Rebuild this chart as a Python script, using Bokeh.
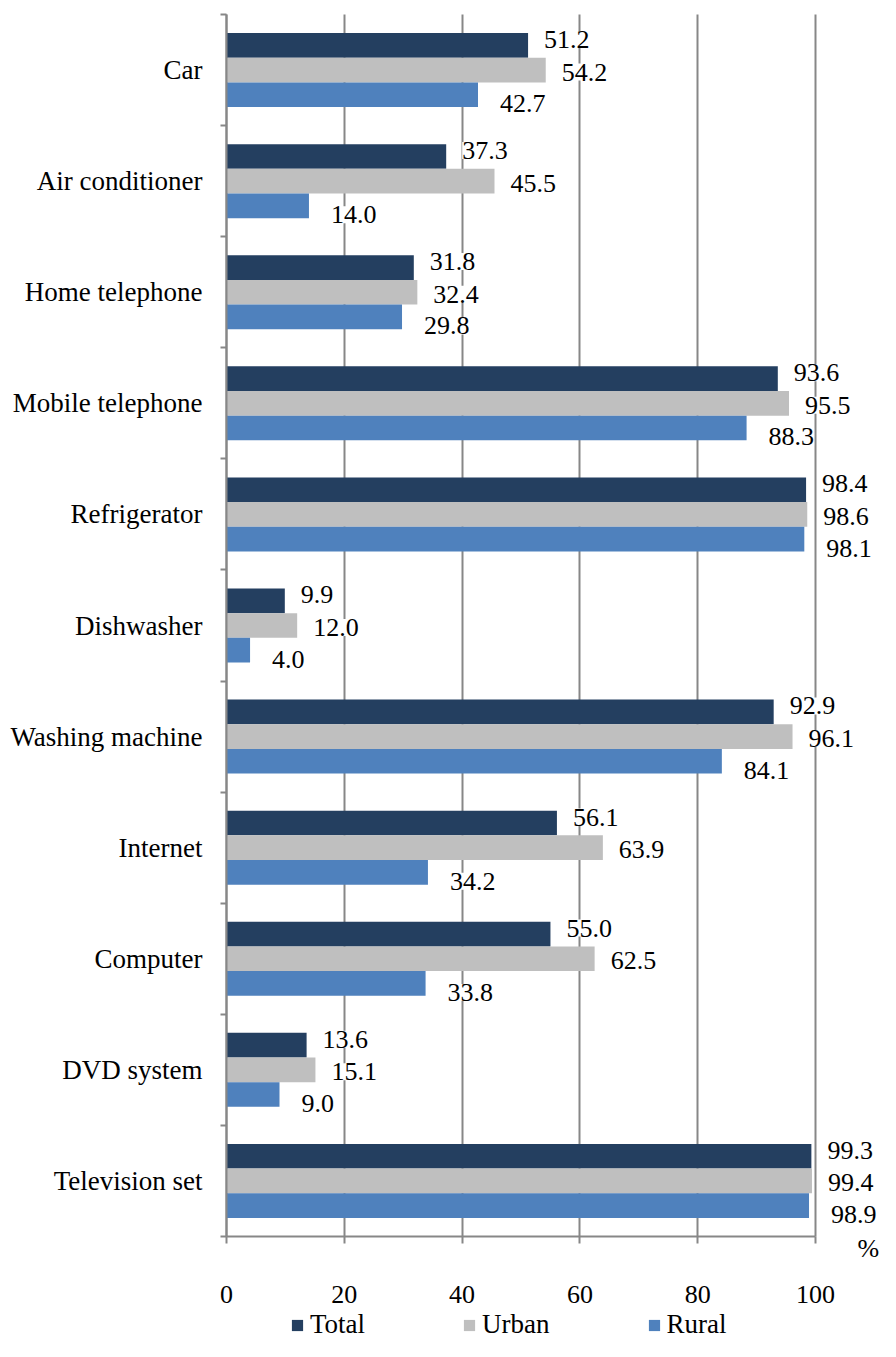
import numpy as np
from bokeh.plotting import figure
from bokeh.models import (ColumnDataSource, Range1d, FixedTicker, LabelSet, Label,
                          Legend, LegendItem, Grid)
from bokeh.core.properties import value
from bokeh.embed import file_html
from bokeh.resources import INLINE

categories = ["Car", "Air conditioner", "Home telephone", "Mobile telephone",
              "Refrigerator", "Dishwasher", "Washing machine", "Internet",
              "Computer", "DVD system", "Television set"]
total = [51.2, 37.3, 31.8, 93.6, 98.4, 9.9, 92.9, 56.1, 55.0, 13.6, 99.3]
urban = [54.2, 45.5, 32.4, 95.5, 98.6, 12.0, 96.1, 63.9, 62.5, 15.1, 99.4]
rural = [42.7, 14.0, 29.8, 88.3, 98.1, 4.0, 84.1, 34.2, 33.8, 9.0, 98.9]
series_names = ["Total", "Urban", "Rural"]
x_ticks = [0, 20, 40, 60, 80, 100]
unit_label = "%"

FONT = "Liberation Serif"
FS = "26px"
GRAY = "#878787"
colors = ["#243F60", "#BFBFBF", "#4F81BD"]

W, H = 880, 1341
# pixel geometry of the plotting area inside the canvas
px_left, px_right, px_top, px_bottom = 226, 815, 14, 1236

n = len(categories)
x_max = x_ticks[-1]
sx = (px_right - px_left) / x_max
sy = (px_bottom - px_top) / n
x_range = Range1d(-px_left / sx, x_max + (W - px_right) / sx)
y_range = Range1d(-(H - px_bottom) / sy, n + px_top / sy)

centers = n - np.arange(n) - 0.5
bar_h = 0.222
shifts = [bar_h, 0.0, -bar_h]
label_dx = [16, 16, 22]
label_dy = [6, -2, -9]

p = figure(width=W, height=H, x_range=x_range, y_range=y_range,
           output_backend="svg", toolbar_location=None, min_border=0)
p.outline_line_color = None
p.background_fill_color = "white"

# grid
p.ygrid.visible = False
p.xgrid.ticker = FixedTicker(ticks=x_ticks)
p.xgrid.grid_line_color = GRAY
p.xgrid.grid_line_width = 2
p.xgrid.bounds = (0, x_max)
use_cross = "cross_bounds" in Grid.properties()
if use_cross:
    p.xgrid.cross_bounds = (0, n)
else:
    p.xgrid.visible = False
    p.segment(x0=x_ticks, y0=[0] * len(x_ticks), x1=x_ticks, y1=[n] * len(x_ticks),
              line_color=GRAY, line_width=2)

# x axis
p.xaxis.fixed_location = 0
p.xaxis.bounds = (0, x_max)
p.xaxis.ticker = FixedTicker(ticks=x_ticks)
p.xaxis.axis_line_color = GRAY
p.xaxis.axis_line_width = 2
p.xaxis.major_tick_line_color = GRAY
p.xaxis.major_tick_line_width = 2
p.xaxis.major_tick_out = 7
p.xaxis.major_tick_in = 0
p.xaxis.minor_tick_line_color = None
p.xaxis.major_label_standoff = 42
p.xaxis.major_label_text_font = FONT
p.xaxis.major_label_text_font_size = FS
p.xaxis.major_label_text_color = "black"

# y axis (labels at category centers, ticks at category boundaries)
p.yaxis.fixed_location = 0
p.yaxis.bounds = (0, n)
p.yaxis.ticker = FixedTicker(ticks=[float(c) for c in centers],
                             minor_ticks=[float(b) for b in range(n + 1)])
p.yaxis.major_label_overrides = {float(c): cat for c, cat in zip(centers, categories)}
p.yaxis.axis_line_color = GRAY
p.yaxis.axis_line_width = 2
p.yaxis.major_tick_line_color = None
p.yaxis.major_tick_out = 0
p.yaxis.major_tick_in = 0
p.yaxis.minor_tick_line_color = GRAY
p.yaxis.minor_tick_line_width = 2
p.yaxis.minor_tick_out = 6
p.yaxis.minor_tick_in = 0
p.yaxis.major_label_standoff = 18
p.yaxis.major_label_text_font = FONT
p.yaxis.major_label_text_font_size = "27px"
p.yaxis.major_label_text_color = "black"

series = [total, urban, rural]
renderers = []
sources = []
for vals, sh, col in zip(series, shifts, colors):
    src = ColumnDataSource(dict(y=centers + sh, v=vals, lab=[f"{v:.1f}" for v in vals]))
    r = p.hbar(y="y", left=0, right="v", height=bar_h, fill_color=col, line_color=None, source=src)
    renderers.append(r)
    sources.append(src)

# data labels (rural first, total on top)
for i in [2, 1, 0]:
    ls = LabelSet(x="v", y="y", text="lab", source=sources[i],
                  x_offset=label_dx[i], y_offset=label_dy[i],
                  text_baseline="middle", text_align="left",
                  text_font=value(FONT), text_font_size=value(FS), text_color="black",
                  background_fill_color="white")
    p.add_layout(ls)

# unit label
p.add_layout(Label(x=x_max, y=0, x_offset=42, y_offset=-12, text=unit_label,
                   text_font=FONT, text_font_size=FS, text_baseline="middle",
                   text_color="black"))

legend = Legend(items=[LegendItem(label=nm, renderers=[r]) for nm, r in zip(series_names, renderers)],
                orientation="horizontal", location=(290, 1),
                glyph_width=14, glyph_height=14, label_standoff=6, spacing=97,
                padding=0, margin=0, border_line_color=None, background_fill_alpha=0,
                label_text_font=FONT, label_text_font_size="27px", label_text_color="black")
p.add_layout(legend)

open("out.html", "w").write(file_html(p, INLINE))
